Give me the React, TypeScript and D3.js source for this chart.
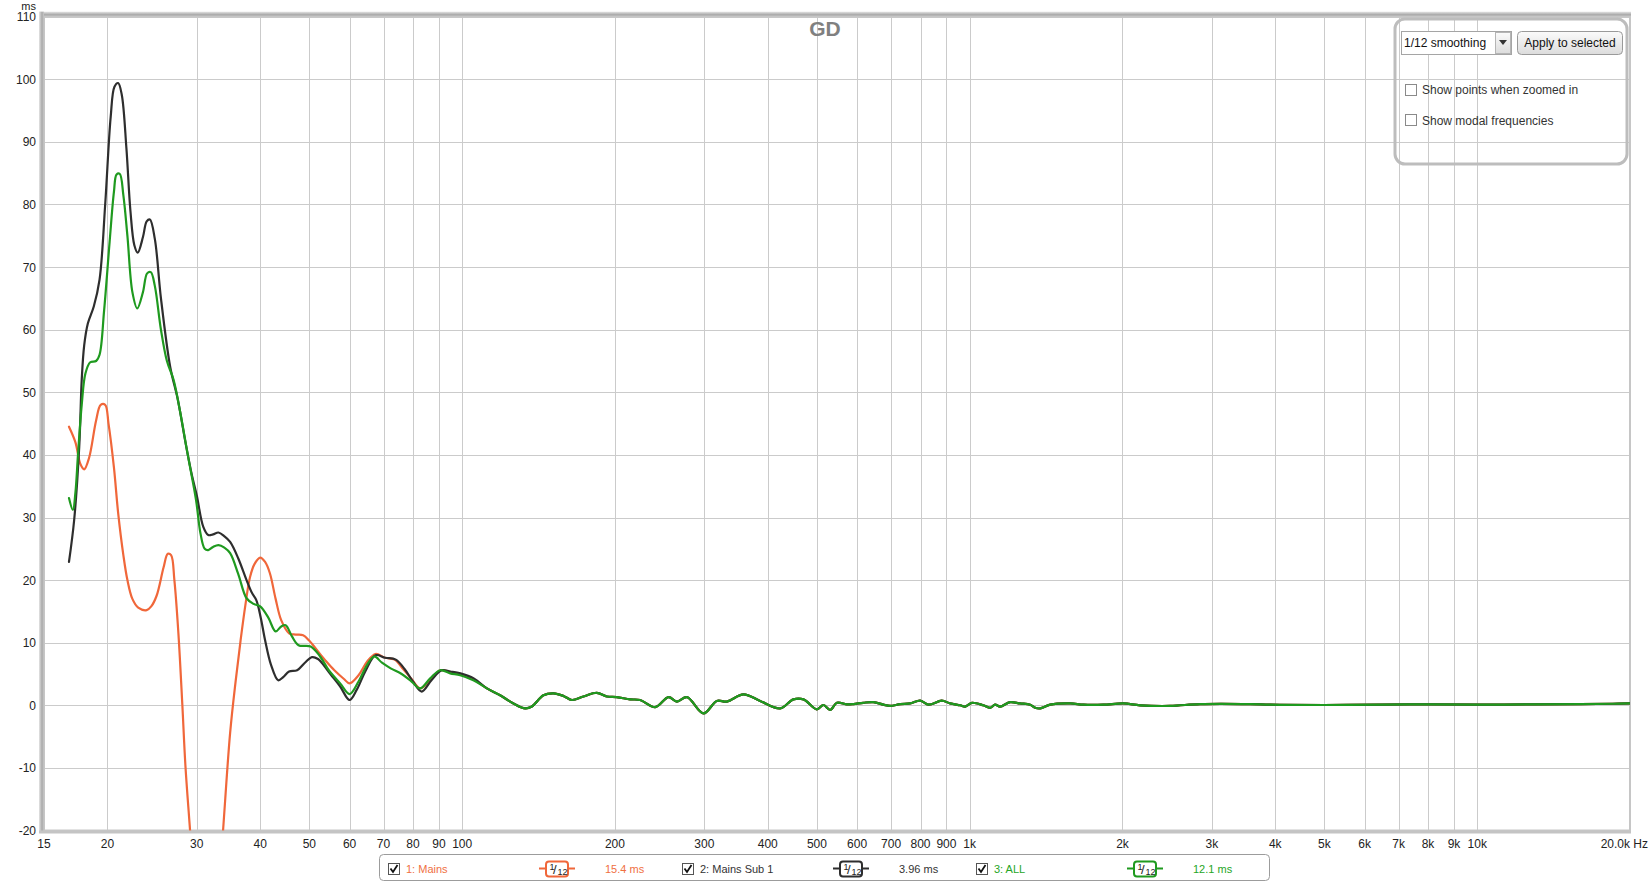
import React from 'react';
import * as d3 from 'd3';

// ---------- data ----------
const Y_TICKS = [-20, -10, 0, 10, 20, 30, 40, 50, 60, 70, 80, 90, 100, 110];
const X_GRID = [20, 30, 40, 50, 60, 70, 80, 90, 100, 200, 300, 400, 500, 600, 700, 800, 900, 1000,
  2000, 3000, 4000, 5000, 6000, 7000, 8000, 9000, 10000];
const X_LABELS = ['20', '30', '40', '50', '60', '70', '80', '90', '100', '200', '300', '400', '500', '600',
  '700', '800', '900', '1k', '2k', '3k', '4k', '5k', '6k', '7k', '8k', '9k', '10k'];

// shared response above ~110 Hz (freq Hz, group delay ms)
const TAIL: [number, number][] = [
  [111.9, 2.7], [118.8, 1.6], [126.2, 0.3], [133.1, -0.5], [137.2, -0.2], [144.6, 1.6], [151.3, 1.9],
  [158.3, 1.5], [164.5, 0.85], [173.4, 1.4], [184.2, 2.0], [192.8, 1.4], [201.7, 1.3], [214.3, 0.95],
  [224.2, 0.85], [240.1, -0.3], [255, 1.3], [264.9, 0.6], [277.3, 1.3], [298.9, -1.3], [317.5, 0.7],
  [332.3, 0.6], [358.4, 1.75], [386.4, 0.7], [423.2, -0.5], [449.4, 0.95], [470.5, 0.95], [499.8, -0.65],
  [515, 0.05], [531, -0.75], [547.4, 0.4], [572.9, 0.15], [590, 0.2], [617, 0.4], [646, 0.5], [676, 0.1],
  [697, -0.1], [730, 0.2], [763, 0.3], [799, 0.75], [830, 0.1], [881, 0.75], [915, 0.3], [958, 0],
  [980, -0.2], [1010, 0.4], [1064, 0], [1097, -0.4], [1122, 0.1], [1148, -0.2], [1201, 0.5], [1257, 0.3],
  [1316, 0.1], [1346, -0.4], [1377, -0.5], [1441, 0.1], [1578, 0.3], [1676, 0.1], [1835, 0.1], [2009, 0.3],
  [2167, 0], [2483, -0.1], [2845, 0.2], [3570, 0.2], [3909, 0.1], [5000, 0.05], [6500, 0.1], [8000, 0.15],
  [10000, 0.1], [13000, 0.15], [16000, 0.2], [18500, 0.25], [20000, 0.3],
];

const MAINS_LOW: [number, number][] = [
  [16.8, 44.5], [17.3, 42], [17.7, 38.5], [18.0, 37.7], [18.4, 39.5], [19.0, 45.5], [19.4, 48], [19.8, 48],
  [20.1, 45], [20.6, 38], [21.0, 30.7], [21.5, 24], [21.9, 20], [22.4, 17], [23.0, 15.6], [23.9, 15.2],
  [24.4, 15.8], [25.0, 17.5], [25.8, 22], [26.3, 24.2], [26.7, 24], [27.1, 20], [27.6, 11.5], [28.1, 0], [28.5, -9.8],
  [29.1, -20], [30.0, -35], [31.0, -45], [31.8, -46], [32.6, -38], [33.8, -20], [34.9, -4.4], [35.8, 4],
  [36.6, 10.4], [37.4, 16], [38.2, 20.5], [39.0, 22.6], [40.0, 23.6], [40.9, 22.9], [41.8, 21.1],
  [42.9, 17], [44.0, 13.6], [45.6, 11.5], [47.0, 11.3], [48.6, 11.2], [50.0, 10.3], [52.0, 8.6], [54.0, 7],
  [56.0, 5.6], [58.5, 4.2], [60.0, 3.5], [62.5, 4.8], [65.0, 7], [67.5, 8.2], [70.5, 7.6], [73.6, 7.3],
  [76.5, 5.8], [79.5, 4.2], [82.6, 2.7], [86.5, 4.0], [90.5, 5.6], [94.8, 5.3], [99.2, 5.0], [105.4, 4.1],
];

const SUB_LOW: [number, number][] = [
  [16.8, 22.9], [17.2, 29.6], [17.6, 41.3], [17.8, 52], [18.0, 57.5], [18.3, 61.0], [18.8, 63.7], [19.3, 68],
  [19.8, 80], [20.3, 94], [20.65, 98.8], [21.0, 99.4], [21.35, 97.5], [21.8, 89], [22.2, 79], [22.6, 73.5],
  [22.95, 72.3], [23.5, 74.8], [23.9, 77.3], [24.25, 77.6], [24.8, 74.5], [25.5, 65], [26.6, 54], [27.5, 49],
  [28.5, 42], [29.3, 37], [30.0, 33.5],
  [30.9, 28.5], [31.6, 27.2], [32.3, 27.3], [33.1, 27.6], [34.0, 27.0], [34.9, 26.1], [36.2, 23.5],
  [37.6, 20], [38.5, 18], [39.3, 16.8], [40.1, 14], [40.9, 10.4], [42.0, 6.5], [43.4, 4.0], [44.4, 4.5],
  [45.6, 5.4], [47.3, 5.6], [49.0, 6.8], [50.6, 7.7], [52.0, 7.4], [53.0, 6.7], [55.0, 5], [57.5, 3],
  [60.0, 0.85], [62.0, 2.5], [64.5, 5.5], [67.5, 8.0], [70.5, 7.6], [74.0, 7.3], [77.0, 5.8], [80.0, 3.8],
  [83.2, 2.2], [87.0, 4.0], [91.1, 5.6], [94.8, 5.4], [99.2, 5.1], [105.4, 4.3],
];

const ALL_LOW: [number, number][] = [
  [16.8, 33.1], [17.1, 31.2], [17.3, 34], [17.5, 40], [17.8, 48], [18.1, 53], [18.5, 54.8], [19.0, 55],
  [19.3, 56], [19.7, 63], [20.2, 74], [20.6, 82], [20.85, 84.8], [21.15, 84.9], [21.5, 81.5], [21.9, 75], [22.4, 66],
  [22.9, 63.4], [23.5, 66], [23.95, 69], [24.35, 69.2], [24.8, 67], [25.5, 60], [26.2, 55], [27.0, 52], [27.8, 47],
  [28.8, 40], [29.9, 32.8], [30.5, 27.5], [31.1, 25], [31.6, 24.8], [32.3, 25.3], [33.1, 25.6], [34.0, 25.2],
  [34.9, 24.3], [36.2, 21], [37.6, 17.1], [38.8, 16.2], [40.0, 15.8], [41.5, 14], [42.9, 11.8], [44.0, 12.6],
  [44.9, 12.8], [46.2, 11], [47.6, 9.6], [50.3, 9.4], [52.5, 7.8], [54.6, 5.6], [57.5, 3.5], [60.0, 1.8],
  [62.5, 3.8], [65.0, 6.5], [67.1, 7.8], [69.5, 6.8], [72.3, 5.9], [76.0, 5.0], [79.5, 3.8], [82.6, 2.7],
  [86.5, 4.3], [90.5, 5.6], [94.7, 5.1], [99.1, 4.8], [105.2, 4.0],
];

const SERIES_NAMES = ['1: Mains', '2: Mains Sub 1', '3: ALL'];
const SERIES_COLORS = ['#f0673a', '#2e2e2e', '#1f9a1f'];
const SERIES_TEXT_COLORS = ['#f0703f', '#333333', '#26a626'];
const SERIES_DELAYS = ['15.4 ms', '3.96 ms', '12.1 ms'];
const SERIES_DATA = [MAINS_LOW.concat(TAIL), SUB_LOW.concat(TAIL), ALL_LOW.concat(TAIL)];

// ---------- layout ----------
const W = 1651, H = 882;
const X0 = 44, X1 = 1630, Y0 = 16.7, Y1 = 830.5;
const FONT = '"Liberation Sans", Arial, sans-serif';

export default function App() {
  const x = d3.scaleLog().domain([15, 20000]).range([X0, X1]);
  const y = d3.scaleLinear().domain([-20, 110]).range([Y1, Y0]);
  const line = d3.line<[number, number]>()
    .x(d => x(d[0]))
    .y(d => y(d[1]))
    .curve(d3.curveCatmullRom.alpha(0.5));

  const legendStep = 294;
  const legendX0 = 388;

  return (
    <div style={{ position: 'absolute', left: 0, top: 0 }}>
      <svg width={W} height={H} style={{ display: 'block', fontFamily: FONT }}>
        <defs>
          <clipPath id="plotClip">
            <rect x={X0} y={Y0} width={X1 - X0} height={Y1 - Y0} />
          </clipPath>
          <linearGradient id="topBar" x1="0" y1="0" x2="0" y2="1">
            <stop offset="0" stopColor="#e4e4e4" />
            <stop offset="0.6" stopColor="#a9a9a9" />
            <stop offset="1" stopColor="#c9c9c9" />
          </linearGradient>
          <linearGradient id="leftBar" x1="0" y1="0" x2="1" y2="0">
            <stop offset="0" stopColor="#e4e4e4" />
            <stop offset="0.6" stopColor="#a9a9a9" />
            <stop offset="1" stopColor="#c9c9c9" />
          </linearGradient>
          <linearGradient id="btnGrad" x1="0" y1="0" x2="0" y2="1">
            <stop offset="0" stopColor="#fbfbfb" />
            <stop offset="1" stopColor="#dcdcdc" />
          </linearGradient>
        </defs>
        <rect x={0} y={0} width={W} height={H} fill="#ffffff" />

        {/* grid */}
        {Y_TICKS.map(t => (
          <line key={'h' + t} x1={X0} x2={X1} y1={Math.round(y(t)) + 0.5} y2={Math.round(y(t)) + 0.5}
            stroke="#cbcbcb" strokeWidth={1} />
        ))}
        {X_GRID.map(f => (
          <line key={'v' + f} x1={Math.round(x(f)) + 0.5} x2={Math.round(x(f)) + 0.5} y1={Y0} y2={Y1}
            stroke="#cbcbcb" strokeWidth={1} />
        ))}

        {/* frame */}
        <rect x={X0} y={Y0} width={X1 - X0} height={Y1 - Y0} fill="none" stroke="#c6c6c6" strokeWidth={2} />
        <rect x={X0 - 5} y={Y0 - 5} width={X1 - X0 + 6} height={5} fill="url(#topBar)" />
        <rect x={X0 - 5} y={Y0 - 5} width={5} height={Y1 - Y0 + 6} fill="url(#leftBar)" />
        <rect x={X0 - 5} y={Y1} width={X1 - X0 + 6} height={3} fill="#c4c4c4" />

        {/* title */}
        <text x={825} y={36} textAnchor="middle" fontSize={21} fontWeight="bold" fill="#808080">GD</text>

        {/* curves */}
        <g clipPath="url(#plotClip)" fill="none" strokeLinejoin="round" strokeLinecap="round">
          {SERIES_DATA.map((d, i) => (
            <path key={i} d={line(d) || ''} stroke={SERIES_COLORS[i]} strokeWidth={2.2} />
          ))}
        </g>

        {/* y axis labels */}
        <text x={36} y={10} textAnchor="end" fontSize={11} fill="#222">ms</text>
        {Y_TICKS.map(t => (
          <text key={'yl' + t} x={36} y={y(t) + 4.5} textAnchor="end" fontSize={12} fill="#222">{t}</text>
        ))}

        {/* x axis labels */}
        <text x={x(15)} y={848} textAnchor="middle" fontSize={12} fill="#222">15</text>
        {X_GRID.map((f, i) => (
          <text key={'xl' + f} x={x(f)} y={848} textAnchor="middle" fontSize={12} fill="#222">{X_LABELS[i]}</text>
        ))}
        <text x={1648} y={848} textAnchor="end" fontSize={12} fill="#222">20.0k Hz</text>

        {/* control panel */}
        <rect x={1395} y={19} width={232} height={145} rx={10} fill="none" stroke="#bdbdbd" strokeWidth={3} />
        <rect x={1401.5} y={31.5} width={110} height={23} fill="#ffffff" stroke="#a5a5a5" />
        <rect x={1495.5} y={32.5} width={15} height={21} fill="url(#btnGrad)" stroke="#b5b5b5" />
        <path d="M1499,40 L1507,40 L1503,45 Z" fill="#333" />
        <text x={1404} y={47} fontSize={12} fill="#111">1/12 smoothing</text>
        <rect x={1517.5} y={31.5} width={105} height={23} rx={4} fill="url(#btnGrad)" stroke="#9a9a9a" />
        <text x={1570} y={47} textAnchor="middle" fontSize={12} fill="#111">Apply to selected</text>
        <rect x={1405.5} y={84.5} width={11} height={11} fill="#ffffff" stroke="#8a8a8a" />
        <text x={1422} y={94} fontSize={12} fill="#333">Show points when zoomed in</text>
        <rect x={1405.5} y={114.5} width={11} height={11} fill="#ffffff" stroke="#8a8a8a" />
        <text x={1422} y={125} fontSize={12} fill="#333">Show modal frequencies</text>

        {/* legend */}
        <rect x={379.5} y={854.5} width={890} height={26} rx={4} fill="#ffffff" stroke="#9c9c9c" />
        {SERIES_NAMES.map((name, i) => {
          const bx = legendX0 + i * legendStep;
          const ix = bx + 169;
          return (
            <g key={'lg' + i}>
              <rect x={bx + 0.5} y={863.5} width={11} height={11} fill="#fff" stroke="#555" />
              <path d={`M${bx + 2.5},${868.5} L${bx + 5},${872} L${bx + 9.5},${865}`} fill="none" stroke="#111" strokeWidth={1.8} />
              <text x={bx + 18} y={872.5} fontSize={11} fill={SERIES_TEXT_COLORS[i]}>{name}</text>
              <line x1={ix - 18} x2={ix + 18} y1={868.5} y2={868.5} stroke={SERIES_COLORS[i]} strokeWidth={2} />
              <rect x={ix - 11} y={861.5} width={22} height={15} rx={3} fill="#fff" stroke={SERIES_COLORS[i]} strokeWidth={2} />
              <text x={ix - 7.5} y={870} fontSize={9} fill="#222">1</text>
              <text x={ix - 4} y={874} fontSize={13} fill="#222">/</text>
              <text x={ix + 0.5} y={875} fontSize={9} fill="#222">12</text>
              <text x={bx + 217} y={872.5} fontSize={11} fill={SERIES_TEXT_COLORS[i]}>{SERIES_DELAYS[i]}</text>
            </g>
          );
        })}
      </svg>
    </div>
  );
}
